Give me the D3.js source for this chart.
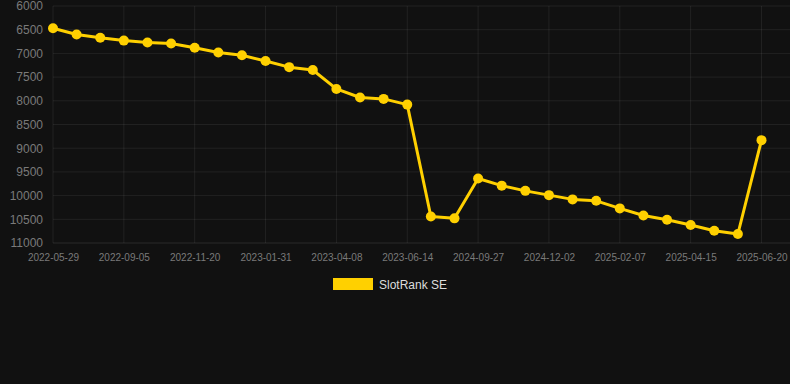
<!DOCTYPE html>
<html><head><meta charset="utf-8">
<script src="https://cdn.jsdelivr.net/npm/d3@7/dist/d3.min.js"></script>
<style>html,body{margin:0;padding:0;background:#111111;}svg{display:block;}</style>
</head><body><div id="c"></div>
<script>
const dates = ["2022-05-29","2022-06-20","2022-07-18","2022-09-05","2022-09-26","2022-10-17","2022-11-20","2022-12-11","2023-01-08","2023-01-31","2023-02-21","2023-03-15","2023-04-08","2023-04-30","2023-05-22","2023-06-14","2024-07-10","2024-08-20","2024-09-27","2024-10-18","2024-11-10","2024-12-02","2024-12-23","2025-01-14","2025-02-07","2025-02-28","2025-03-22","2025-04-15","2025-05-06","2025-05-28","2025-06-20"];
const values = [6470,6600,6670,6730,6770,6790,6880,6980,7040,7160,7290,7350,7750,7930,7960,8080,10440,10480,9640,9790,9900,9990,10080,10110,10270,10420,10510,10620,10740,10810,8830];
const yTicks = [6000,6500,7000,7500,8000,8500,9000,9500,10000,10500,11000];
const seriesName = "SlotRank SE";

const W=790,H=384;
const svg=d3.select("#c").append("svg").attr("width",W).attr("height",H);
svg.append("rect").attr("width",W).attr("height",H).attr("fill","#111111");
const x=d3.scalePoint().domain(dates).range([53,761.5]);
const y=d3.scaleLinear().domain([6000,11000]).range([6,243]);
const gridC="rgba(255,255,255,0.07)";
// horizontal grid
svg.append("g").selectAll("line").data(yTicks).join("line")
 .attr("x1",53).attr("x2",790).attr("y1",d=>y(d)).attr("y2",d=>y(d))
 .attr("stroke",d=>d===11000?"rgba(255,255,255,0.1)":gridC).attr("stroke-width",1);
// vertical grid at every 3rd
const xt=dates.filter((d,i)=>i%3===0);
svg.append("g").selectAll("line").data(xt).join("line")
 .attr("x1",d=>x(d)).attr("x2",d=>x(d)).attr("y1",6).attr("y2",243)
 .attr("stroke",gridC).attr("stroke-width",1);
// y labels
const yAxis=d3.axisLeft(y).tickValues(yTicks).tickSize(0).tickPadding(0).tickFormat(d3.format("d"));
const ya=svg.append("g").attr("transform","translate(43,0)").call(yAxis);
ya.select(".domain").remove();
ya.selectAll("text").attr("fill","#7a7a7a").attr("font-family","Liberation Sans, Arial, sans-serif").attr("font-size",12);
// x labels
const xAxis=d3.axisBottom(x).tickValues(xt).tickSize(0).tickPadding(0);
const xa=svg.append("g").attr("transform","translate(0,254)").call(xAxis);
xa.select(".domain").remove();
xa.selectAll("text").attr("fill","#7a7a7a").attr("font-family","Liberation Sans, Arial, sans-serif").attr("font-size",10).attr("dy","0.71em");
// line
const col="#FFD000";
svg.append("path").datum(values.map((v,i)=>[dates[i],v]))
 .attr("d",d3.line().x(d=>x(d[0])).y(d=>y(d[1])))
 .attr("fill","none").attr("stroke",col).attr("stroke-width",3).attr("stroke-linejoin","round");
svg.append("g").selectAll("circle").data(values).join("circle")
 .attr("cx",(d,i)=>x(dates[i])).attr("cy",d=>y(d)).attr("r",5).attr("fill",col);
// legend
svg.append("rect").attr("x",333).attr("y",278).attr("width",40).attr("height",12).attr("fill",col);
svg.append("text").attr("x",379).attr("y",288.5).text(seriesName).attr("fill","#dddddd")
 .attr("font-family","Liberation Sans, Arial, sans-serif").attr("font-size",12);
</script></body></html>
